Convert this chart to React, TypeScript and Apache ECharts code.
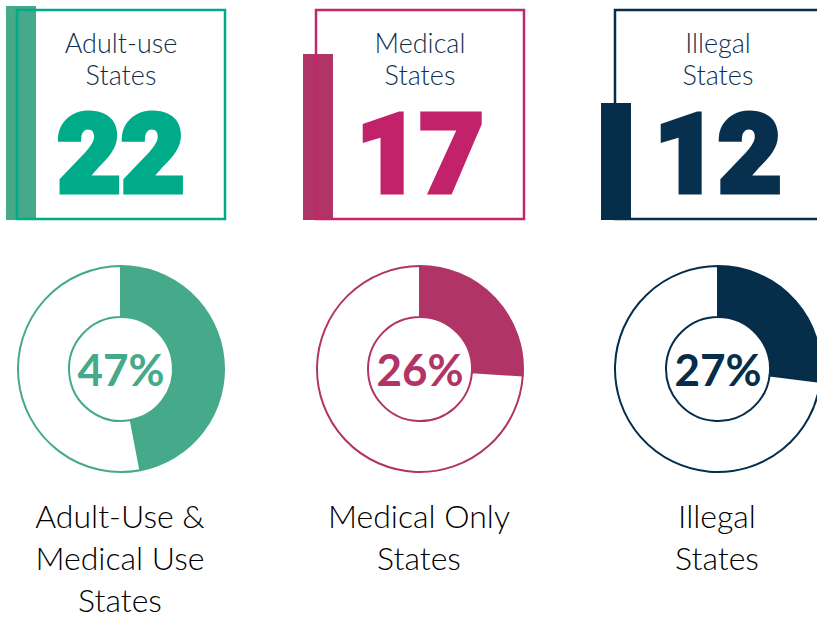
import React, { useEffect, useRef } from "react";
import * as echarts from "echarts";

// ---- data ----
const boxTitles = ["Adult-use\nStates", "Medical\nStates", "Illegal\nStates"];
const stateCounts = [22, 17, 12];
const sharePercents = [47, 26, 27];
const bottomLabels = ["Adult-Use &\nMedical Use\nStates", "Medical Only\nStates", "Illegal\nStates"];

// ---- styles / layout ----
const borderColors = ["#00AB8A", "#C2266B", "#062D4A"];
const barColors = ["#45A98A", "#B03566", "#062D4A"];
const numberColors = ["#00AB8A", "#C1226A", "#06304D"];
const donutColors = ["#45A98A", "#B03566", "#062D4A"];
const centersX = [121, 420, 718];
const borderRects = [
  { x: 17, y: 10, width: 208, height: 209 },
  { x: 316, y: 10, width: 208, height: 209 },
  { x: 615, y: 10, width: 260, height: 209 },
];
const barRects = [
  { x: 6, y: 6, width: 30, height: 214 },
  { x: 303, y: 54, width: 30, height: 166 },
  { x: 601, y: 103, width: 30, height: 117 },
];

export default function App() {
  const ref = useRef<HTMLDivElement>(null);
  useEffect(() => {
    document.body.style.margin = "0";
    const chart = echarts.init(ref.current!, null, { renderer: "svg" });
    const graphics: any[] = [];
    stateCounts.forEach((n, i) => {
      graphics.push({
        type: "rect",
        shape: barRects[i],
        style: { fill: barColors[i] },
        z: 1,
      });
      graphics.push({
        type: "rect",
        shape: borderRects[i],
        style: { fill: "none", stroke: borderColors[i], lineWidth: 2.5 },
        z: 2,
      });
      graphics.push({
        type: "text",
        z: 3,
        style: {
          text: boxTitles[i],
          x: centersX[i],
          y: 26,
          textAlign: "center",
          verticalAlign: "top",
          lineHeight: 32,
          font: '300 27px "Lato", sans-serif',
          fill: "#0F2F4F",
        },
      });
      graphics.push({
        type: "text",
        z: 3,
        style: {
          text: String(n),
          x: centersX[i],
          y: 154,
          textAlign: "center",
          verticalAlign: "middle",
          lineHeight: 86,
          font: '900 110px "Roboto", sans-serif',
          fill: numberColors[i],
          stroke: numberColors[i],
          lineWidth: 5,
        },
      });
      graphics.push({
        type: "text",
        z: 3,
        style: {
          text: bottomLabels[i],
          x: centersX[i] - 1,
          y: 494,
          textAlign: "center",
          verticalAlign: "top",
          lineHeight: 42,
          font: '300 32px "Lato", sans-serif',
          fill: "#000000",
        },
      });
    });

    const series = sharePercents.map((p, i) => ({
      type: "pie",
      center: [centersX[i], 369],
      radius: [52, 103],
      startAngle: 90,
      clockwise: true,
      silent: true,
      labelLine: { show: false },
      data: [
        {
          value: p,
          name: "share",
          itemStyle: { color: donutColors[i], borderColor: donutColors[i], borderWidth: 2 },
          label: {
            show: true,
            position: "center",
            formatter: "{c}%",
            color: donutColors[i],
            fontFamily: "Lato",
            fontWeight: 700,
            fontSize: 44,
          },
        },
        {
          value: 100 - p,
          name: "rest",
          itemStyle: { color: "#ffffff", borderColor: donutColors[i], borderWidth: 2 },
          label: { show: false },
        },
      ],
    }));

    chart.setOption({
      animation: false,
      backgroundColor: "#ffffff",
      series,
      graphic: graphics,
    });
    return () => chart.dispose();
  }, []);
  return <div ref={ref} style={{ width: 817, height: 617 }} />;
}
